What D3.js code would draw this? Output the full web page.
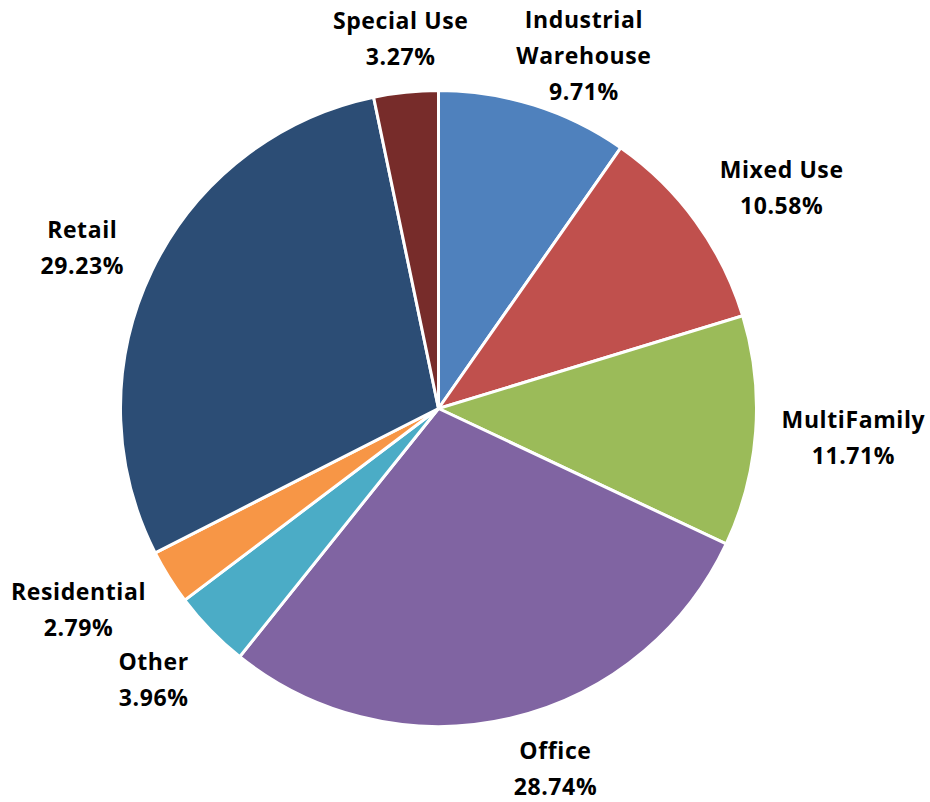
<!DOCTYPE html>
<meta charset="utf-8">
<style>
body {
  margin: 0;
  background: #fff;
}
.label {
  font-family: "Open Sans", Lato, sans-serif;
  font-weight: bold;
  font-size: 23px;
  letter-spacing: 0.6px;
  fill: #000;
}
.slice {
  stroke: #fff;
  stroke-width: 3;
}
</style>
<body>
<script src="https://cdn.jsdelivr.net/npm/d3@7"></script>
<script>

var width = 930,
    height = 802;

// chart data, clockwise from 12 o'clock
var categories = ["Industrial Warehouse", "Mixed Use", "MultiFamily", "Office",
                  "Other", "Residential", "Retail", "Special Use"];
var shares = [9.71, 10.58, 11.71, 28.74, 3.96, 2.79, 29.23, 3.27];
var labelLines = [["Industrial", "Warehouse"], ["Mixed Use"], ["MultiFamily"], ["Office"],
                  ["Other"], ["Residential"], ["Retail"], ["Special Use"]];
var colors = ["#4f81bd", "#c0504d", "#9bbb59", "#8064a2",
              "#4bacc6", "#f79646", "#2c4d75", "#772c2a"];

var cx = 438.5, cy = 408.5, radius = 318,
    gap = 12, lineHeight = 36;

// hand tweaks so labels sit where the original best-fit put them
var labelShift = {
  "Industrial Warehouse": [26, 15],
  "Mixed Use": [26, -4],
  "MultiFamily": [14, 4],
  "Office": [33, 5],
  "Other": [-23, 17],
  "Residential": [-23, 8],
  "Retail": [-21, -1],
  "Special Use": [3, -4]
};

var data = categories.map(function(c, i) {
  return {name: c, value: shares[i], lines: labelLines[i], color: colors[i]};
});

var pie = d3.pie()
    .sort(null)
    .value(function(d) { return d.value; });

var arc = d3.arc()
    .innerRadius(0)
    .outerRadius(radius);

var svg = d3.select("body").append("svg")
    .attr("width", width)
    .attr("height", height);

var g = svg.append("g")
    .attr("transform", "translate(" + cx + "," + cy + ")");

var arcs = pie(data);

g.selectAll(".slice")
    .data(arcs)
  .enter().append("path")
    .attr("class", "slice")
    .attr("fill", function(d) { return d.data.color; })
    .attr("d", arc);

var labels = g.selectAll(".label")
    .data(arcs)
  .enter().append("text")
    .attr("class", "label")
    .attr("text-anchor", "middle");

labels.each(function(d) {
  var t = d3.select(this),
      lines = d.data.lines.concat([d.data.value.toFixed(2) + "%"]);
  lines.forEach(function(l, i) {
    t.append("tspan")
      .attr("x", 0)
      .attr("y", (i - (lines.length - 1) / 2) * lineHeight + 7)
      .text(l);
  });
  var bb = this.getBBox(),
      a = (d.startAngle + d.endAngle) / 2,
      sx = Math.sin(a), sy = -Math.cos(a),
      w = bb.width, h = lines.length * lineHeight,
      shift = labelShift[d.data.name] || [0, 0];
  var x = sx * (radius + gap) + sx * w / 2 + shift[0],
      y = sy * (radius + gap) + sy * h / 2 + shift[1];
  t.attr("transform", "translate(" + x + "," + y + ")");
});

</script>
